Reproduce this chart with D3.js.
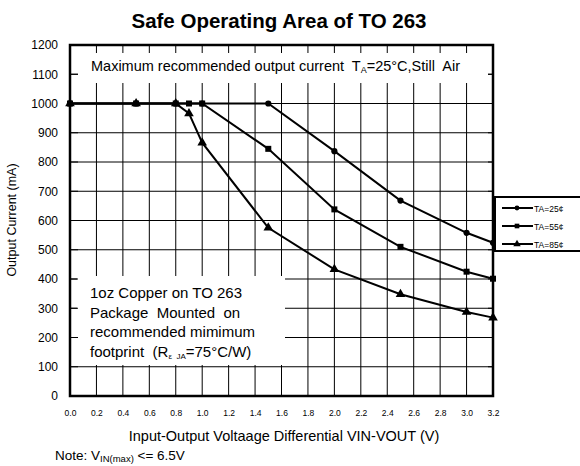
<!DOCTYPE html>
<html>
<head>
<meta charset="utf-8">
<script src="https://cdn.jsdelivr.net/npm/d3@7"></script>
<style>
  body { margin: 0; background: #fff; }
  text { font-family: 'Liberation Sans', Arial, sans-serif; fill: #000; white-space: pre; }
</style>
</head>
<body>
<script>
// data
const seriesNames = ['TA=25¢', 'TA=55¢', 'TA=85¢'];
const volts25 = [0, 0.5, 0.8, 1.0, 1.5, 2.0, 2.5, 3.0, 3.2];
const amps25 = [1000, 1000, 1000, 1000, 1000, 837, 668, 558, 524];
const volts55 = [0, 0.5, 0.8, 0.9, 1.0, 1.5, 2.0, 2.5, 3.0, 3.2];
const amps55 = [1000, 1000, 1000, 1000, 1000, 845, 638, 510, 425, 401];
const volts85 = [0, 0.5, 0.8, 0.9, 1.0, 1.5, 2.0, 2.5, 3.0, 3.2];
const amps85 = [1000, 1000, 1000, 966, 866, 575, 433, 348, 287, 268];
const xTicks = d3.range(0, 17).map(i => i * 0.2);
const yTicks = d3.range(0, 13).map(i => i * 100);

const series = [
  {name: seriesNames[0], pts: volts25.map((v, i) => ({x: v, y: amps25[i]})), sym: d3.symbolCircle, size: 30},
  {name: seriesNames[1], pts: volts55.map((v, i) => ({x: v, y: amps55[i]})), sym: d3.symbolSquare, size: 36},
  {name: seriesNames[2], pts: volts85.map((v, i) => ({x: v, y: amps85[i]})), sym: d3.symbolTriangle, size: 40}
];

const width = 580, height = 466;
const margin = {top: 45, right: 87, bottom: 70, left: 70};

const x = d3.scaleLinear().domain([0, 3.2]).range([margin.left, width - margin.right]);
const y = d3.scaleLinear().domain([0, 1200]).range([height - margin.bottom, margin.top]);

const svg = d3.select('body').append('svg')
  .attr('width', width)
  .attr('height', height);

// grid
svg.append('g')
  .selectAll('line')
  .data(xTicks)
  .join('line')
  .attr('x1', d => x(d)).attr('x2', d => x(d))
  .attr('y1', y(0)).attr('y2', y(1200))
  .attr('stroke', '#000').attr('stroke-width', 1);

svg.append('g')
  .selectAll('line')
  .data(yTicks)
  .join('line')
  .attr('x1', x(0)).attr('x2', x(3.2))
  .attr('y1', d => y(d)).attr('y2', d => y(d))
  .attr('stroke', '#000').attr('stroke-width', 1);

// white text boxes sit on top of the grid
svg.append('rect')
  .attr('x', 78).attr('y', 53).attr('width', 410).attr('height', 30)
  .attr('fill', '#fff');
svg.append('rect')
  .attr('x', 77).attr('y', 276).attr('width', 208).attr('height', 89)
  .attr('fill', '#fff');

// tick stubs on the left & right edge
svg.append('g')
  .selectAll('line')
  .data(yTicks)
  .join('line')
  .attr('x1', x(0)).attr('x2', x(0) + 8)
  .attr('y1', d => y(d)).attr('y2', d => y(d))
  .attr('stroke', '#000');
svg.append('g')
  .selectAll('line')
  .data(yTicks)
  .join('line')
  .attr('x1', x(3.2) - 5).attr('x2', x(3.2))
  .attr('y1', d => y(d)).attr('y2', d => y(d))
  .attr('stroke', '#000');

// plot border
svg.append('rect')
  .attr('x', x(0)).attr('y', y(1200))
  .attr('width', x(3.2) - x(0)).attr('height', y(0) - y(1200))
  .attr('fill', 'none').attr('stroke', '#000').attr('stroke-width', 2.5);

// axes labels
const yAxis = d3.axisLeft(y).tickValues(yTicks).tickFormat(d3.format('d')).tickSize(0).tickPadding(12);
svg.append('g')
  .attr('transform', `translate(${margin.left},0)`)
  .call(yAxis)
  .call(g => g.select('.domain').remove())
  .selectAll('text')
  .attr('font-size', 12)
  .attr('font-family', 'Liberation Sans');

const xAxis = d3.axisBottom(x).tickValues(xTicks).tickFormat(d3.format('.1f')).tickSize(0).tickPadding(14);
svg.append('g')
  .attr('transform', `translate(0,${height - margin.bottom})`)
  .call(xAxis)
  .call(g => g.select('.domain').remove())
  .selectAll('text')
  .attr('font-size', 8.5)
  .attr('font-family', 'Liberation Sans');

// lines
const line = d3.line().x(d => x(d.x)).y(d => y(d.y));
svg.append('g')
  .selectAll('path')
  .data(series)
  .join('path')
  .attr('d', d => line(d.pts))
  .attr('fill', 'none')
  .attr('stroke', '#000')
  .attr('stroke-width', 2);

series.forEach(function(s) {
  svg.append('g')
    .selectAll('path')
    .data(s.pts)
    .join('path')
    .attr('transform', d => `translate(${x(d.x)},${y(d.y)})`)
    .attr('d', d3.symbol().type(s.sym).size(s.size))
    .attr('fill', '#000');
});

// title
svg.append('text')
  .attr('x', 279).attr('y', 28)
  .attr('text-anchor', 'middle')
  .attr('font-size', 20.5)
  .attr('font-weight', 'bold')
  .text('Safe Operating Area of TO 263');

// top note
const t1 = svg.append('text').attr('x', 91).attr('y', 71).attr('font-size', 14.5);
t1.append('tspan').text('Maximum recommended output current  T');
t1.append('tspan').attr('font-size', 9).attr('dy', 2).text('A');
t1.append('tspan').attr('dy', -2).text('=25°C,Still  Air');

// lower-left note
const boxLines = ['1oz Copper on TO 263', 'Package  Mounted  on', 'recommended mimimum'];
svg.append('g')
  .selectAll('text')
  .data(boxLines)
  .join('text')
  .attr('x', 90)
  .attr('y', (d, i) => 298 + i * 19.5)
  .attr('font-size', 15)
  .text(d => d);
const t2 = svg.append('text').attr('x', 90).attr('y', 298 + 3 * 19.5).attr('font-size', 15);
t2.append('tspan').text('footprint  (R');
t2.append('tspan').attr('font-size', 8).attr('dy', 2).text('ε  JA');
t2.append('tspan').attr('dy', -2).text('=75°C/W)');

// axis titles
svg.append('text')
  .attr('transform', 'translate(16,220) rotate(-90)')
  .attr('text-anchor', 'middle')
  .attr('font-size', 12.5)
  .text('Output Current (mA)');

svg.append('text')
  .attr('x', 284).attr('y', 441)
  .attr('text-anchor', 'middle')
  .attr('font-size', 14.5)
  .text('Input-Output Voltaage Differential VIN-VOUT (V)');

const t3 = svg.append('text').attr('x', 55).attr('y', 460).attr('font-size', 13.5);
t3.append('tspan').text('Note: V');
t3.append('tspan').attr('font-size', 9.5).attr('dy', 2).text('IN(max)');
t3.append('tspan').attr('dy', -2).text(' <= 6.5V');

// legend
const legend = svg.append('g');
legend.append('rect')
  .attr('x', 495).attr('y', 197).attr('width', 100).attr('height', 54)
  .attr('fill', '#fff').attr('stroke', '#000').attr('stroke-width', 2);
const items = legend.selectAll('g.item')
  .data(series)
  .join('g')
  .attr('class', 'item')
  .attr('transform', (d, i) => `translate(0,${208 + i * 18})`);
items.append('line')
  .attr('x1', 502).attr('x2', 533)
  .attr('stroke', '#000').attr('stroke-width', 2);
items.append('path')
  .attr('transform', 'translate(517,0)')
  .attr('d', d => d3.symbol().type(d.sym).size(d.size * 0.6)())
  .attr('fill', '#000');
items.append('text')
  .attr('x', 534).attr('y', 3.5)
  .attr('font-size', 8.5)
  .text(d => d.name);
</script>
</body>
</html>
